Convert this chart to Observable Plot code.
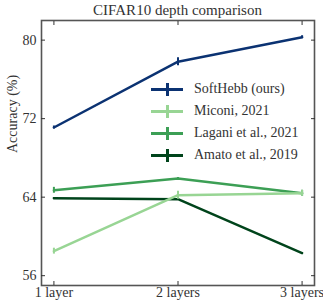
<!DOCTYPE html>
<html>
<head>
<meta charset="utf-8">
<script src="https://cdn.jsdelivr.net/npm/d3@7"></script>
<script src="https://cdn.jsdelivr.net/npm/@observablehq/plot@0.6"></script>
<style>
  body { margin: 0; background: #fff; font-family: "Liberation Serif", "DejaVu Serif", serif; }
  #wrap { position: relative; width: 323px; height: 301px; }
  #title { position: absolute; left: 41px; width: 273px; top: 2px; text-align: center; font-size: 15px; color: #333; line-height: 16px; }
  #chart { position: absolute; left: 0; top: 19px; }
  #legend { position: absolute; left: 151px; top: 80px; font-size: 14px; color: #333; }
  .row { position: relative; height: 22px; line-height: 18px; }
  .h { position: absolute; left: 0; top: 8px; width: 32px; height: 3px; }
  .v { position: absolute; left: 15px; top: 3px; width: 3px; height: 13px; }
  .lab { position: absolute; left: 43px; top: 0; white-space: nowrap; }
  svg { overflow: visible; }
  svg text { font-family: "Liberation Serif", "DejaVu Serif", serif; }
</style>
</head>
<body>
<div id="wrap">
  <div id="title">CIFAR10 depth comparison</div>
  <div id="chart"></div>
  <div id="legend"></div>
</div>
<script>
const depths = [1, 2, 3];
const depthLabels = ["1 layer", "2 layers", "3 layers"];
const seriesNames = ["SoftHebb (ours)", "Miconi, 2021", "Lagani et al., 2021", "Amato et al., 2019"];
const colors = ["#0b3272", "#98d594", "#3c9f55", "#00441b"];
const softHebb = [71.1, 77.8, 80.3];
const softHebbErr = [0.15, 0.4, 0.15];
const miconi = [58.5, 64.2, 64.4];
const miconiErr = [0.3, 0.4, 0.3];
const lagani = [64.7, 65.9, 64.4];
const laganiErr = [0.3, 0.1, 0.3];
const amato = [63.9, 63.8, 58.3];
const amatoErr = [0.05, 0.05, 0.05];
const yTicks = [56, 64, 72, 80];

const allVals = [softHebb, miconi, lagani, amato];
const allErr = [softHebbErr, miconiErr, laganiErr, amatoErr];
const data = [];
seriesNames.forEach((s, i) => depths.forEach((d, j) => data.push({series: s, depth: d, acc: allVals[i][j], err: allErr[i][j]})));
const order = ["Amato et al., 2019", "Lagani et al., 2021", "Miconi, 2021", "SoftHebb (ours)"];

const marks = [];
order.forEach(s => {
  const c = colors[seriesNames.indexOf(s)];
  const d = data.filter(r => r.series === s);
  marks.push(Plot.line(d, {x: "depth", y: "acc", stroke: c, strokeWidth: 2.5}));
  marks.push(Plot.ruleX(d, {x: "depth", y1: r => r.acc - r.err, y2: r => r.acc + r.err, stroke: c, strokeWidth: 2}));
});

const FONT = '"Liberation Serif", "DejaVu Serif", serif';
const chart = Plot.plot({
  width: 323,
  height: 281,
  marginLeft: 41,
  marginRight: 9,
  marginTop: 1,
  marginBottom: 15,
  style: {fontFamily: FONT, fontSize: "14px", color: "#333", background: "transparent"},
  x: {domain: [0.9, 3.1]},
  y: {domain: [55, 82]},
  marks: [
    ...marks,
    Plot.frame({stroke: "#555", strokeWidth: 1.6}),
    Plot.axisX(depths, {anchor: "bottom", tickSize: 0, tickPadding: 2, tickFormat: d => depthLabels[depths.indexOf(d)], label: null, fontSize: 14, fill: "#333"}),
    Plot.axisX(depths, {anchor: "bottom", tickSize: -4, tickFormat: () => "", label: null, stroke: "#333"}),
    Plot.axisX(depths, {anchor: "top", tickSize: -4, tickFormat: () => "", label: null, stroke: "#333"}),
    Plot.axisY(yTicks, {anchor: "left", tickSize: 0, tickPadding: 5, label: null, fontSize: 14, fill: "#333"}),
    Plot.axisY(yTicks, {anchor: "left", tickSize: -4, tickFormat: () => "", label: null, stroke: "#333"}),
    Plot.axisY(yTicks, {anchor: "right", tickSize: -4, tickFormat: () => "", label: null, stroke: "#333"}),
    Plot.text(["Accuracy (%)"], {frameAnchor: "left", dx: -29, rotate: -90, fontSize: 14, fill: "#333"})
  ]
});
document.getElementById("chart").appendChild(chart);

const legend = document.getElementById("legend");
seriesNames.forEach((s, i) => {
  const row = document.createElement("div");
  row.className = "row";
  row.innerHTML = `<div class="h" style="background:${colors[i]}"></div><div class="v" style="background:${colors[i]}"></div><div class="lab">${s}</div>`;
  legend.appendChild(row);
});
</script>
</body>
</html>
